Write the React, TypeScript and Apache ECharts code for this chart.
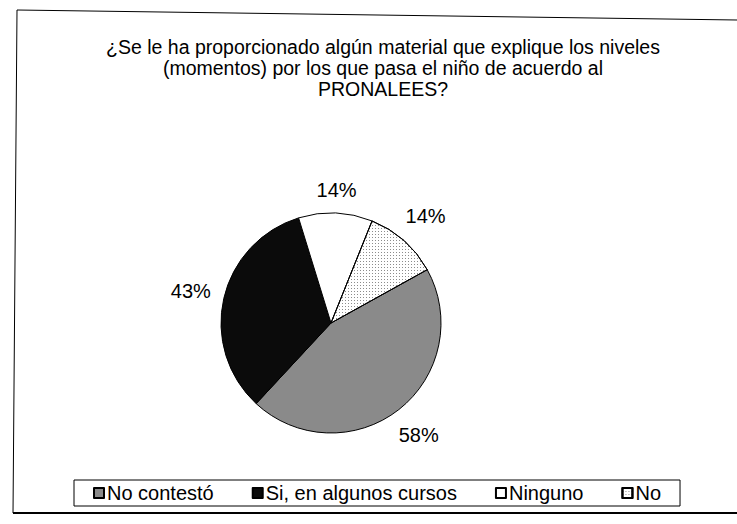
import React, { useEffect, useRef } from "react";
import * as echarts from "echarts";

const TITLE_LINES = [
  "¿Se le ha proporcionado algún material que explique los niveles",
  "(momentos) por los que pasa el niño de acuerdo al",
  "PRONALEES?",
];
const CATEGORIES = ["No contestó", "Si, en algunos cursos", "Ninguno", "No"];
const VALUES = [58, 43, 14, 14];
const COLORS = ["#8a8a8a", "#0b0b0b", "#ffffff", "#ffffff"];

const FONT = "'Liberation Sans', Arial, sans-serif";
const CENTER = [331, 323];
const RADIUS = 110;
const START_ANGLE = 29;
const LABEL_GAP = 12;

export default function App() {
  const ref = useRef<HTMLDivElement>(null);
  useEffect(() => {
    if (!ref.current) return;
    const chart = echarts.init(ref.current, null, { renderer: "svg" });
    const total = VALUES.reduce((a, b) => a + b, 0);
    const midAngles: number[] = [];
    let cum = 0;
    VALUES.forEach((v) => {
      const mid = START_ANGLE - ((cum + v / 2) / total) * 360;
      midAngles.push((mid * Math.PI) / 180);
      cum += v;
    });
    const data = CATEGORIES.map((name, i) => {
      const item: any = {
        name,
        value: VALUES[i],
        itemStyle: { color: COLORS[i] },
      };
      if (name === "No") {
        item.itemStyle.decal = {
          symbol: "rect",
          symbolSize: 1,
          dashArrayX: [1, 2],
          dashArrayY: [1, 2],
          color: "rgba(0,0,0,0.45)",
        };
      }
      return item;
    });
    chart.setOption({
      animation: false,
      backgroundColor: "#ffffff",
      title: {
        text: TITLE_LINES.join("\n"),
        left: 383,
        top: 36,
        padding: 0,
        textAlign: "center",
        textStyle: {
          fontFamily: FONT,
          fontSize: 19.5,
          fontWeight: "normal",
          color: "#000",
          lineHeight: 21,
        },
      },
      legend: {
        left: 74,
        top: 480,
        orient: "horizontal",
        padding: [3, 19, 3, 19],
        itemGap: 38,
        itemWidth: 10,
        itemHeight: 10,
        icon: "rect",
        borderColor: "#000",
        borderWidth: 1,
        selectedMode: false,
        textStyle: { fontFamily: FONT, fontSize: 20, color: "#000", padding: [0, 0, 0, -2] },
        data: CATEGORIES,
      },
      graphic: [
        { type: "line", shape: { x1: 17, y1: 10, x2: 737, y2: 20 }, style: { stroke: "#000", lineWidth: 1 } },
        { type: "line", shape: { x1: 17, y1: 10, x2: 13, y2: 513 }, style: { stroke: "#000", lineWidth: 1 } },
        { type: "line", shape: { x1: 13, y1: 513, x2: 737, y2: 513 }, style: { stroke: "#000", lineWidth: 2 } },
      ],
      series: [
        {
          type: "pie",
          center: CENTER,
          radius: RADIUS,
          startAngle: START_ANGLE,
          clockwise: true,
          data,
          itemStyle: { borderColor: "#000", borderWidth: 1 },
          emphasis: { disabled: true },
          label: {
            show: true,
            position: "outside",
            formatter: "{c}%",
            fontFamily: FONT,
            fontSize: 20,
            color: "#000",
          },
          labelLine: { show: false },
          labelLayout: (params: any) => {
            const a = midAngles[params.dataIndex];
            const w = params.labelRect.width;
            const h = params.labelRect.height;
            const c = Math.cos(a);
            const s = Math.sin(a);
            const d = RADIUS + LABEL_GAP + Math.abs(c) * w / 2 + Math.abs(s) * h / 2;
            return {
              x: CENTER[0] + c * d,
              y: CENTER[1] - s * d,
              align: "center",
              verticalAlign: "middle",
            };
          },
        },
      ],
    });
    return () => chart.dispose();
  }, []);
  return (
    <div
      ref={ref}
      style={{ position: "fixed", left: 0, top: 0, width: 737, height: 524, background: "#fff" }}
    />
  );
}
